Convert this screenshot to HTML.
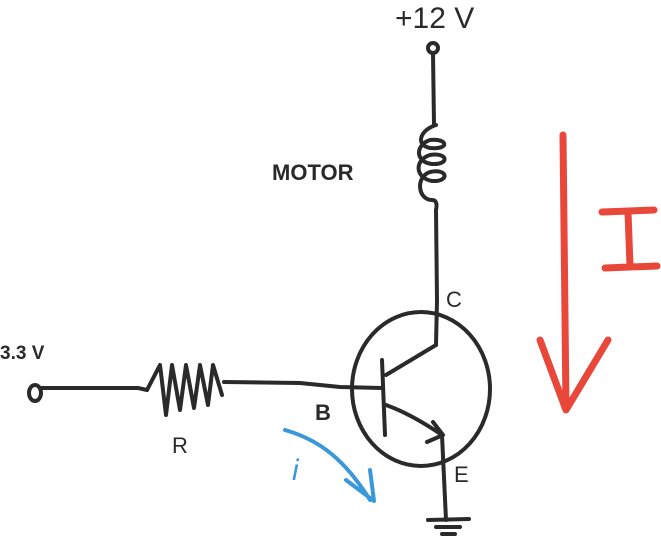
<!DOCTYPE html>
<html><head><meta charset="utf-8"><style>
html,body{margin:0;padding:0;background:#fff;width:661px;height:539px;overflow:hidden}
svg{display:block}
text{font-family:"Liberation Sans",sans-serif;}
</style></head><body>
<svg width="661" height="539" viewBox="0 0 661 539">
<g fill="none" stroke="#2a2a2a" stroke-width="4" stroke-linecap="round" stroke-linejoin="round">
<circle cx="433" cy="48" r="5"/>
<path d="M433 53 L434 125"/>
<path d="M436 125 C420 130 415 145 430 148 C450 150 448 138 430 140 C415 145 415 162 432 164 C450 165 448 152 430 155 C414 160 415 178 432 181 C450 182 448 168 430 172 C415 177 418 200 432 200 C437 200 437 205 436 210"/>
<path d="M436 210 L437 300 L436 345"/>
<ellipse cx="421" cy="389" rx="69" ry="77"/>
<path d="M382 360 L385 435"/>
<path d="M386 375 L436 345"/>
<path d="M386 405 C400 410 420 420 442 435"/>
<path d="M433 422 L443 435 L427 442"/>
<path d="M442 435 L446 520"/>
<path d="M428 520 L469 519 M436 527 L460 527 M442 534 L455 534"/>
<ellipse cx="35" cy="393" rx="6" ry="8"/>
<path d="M41 388 L138 388 L147 390"/>
<path d="M147 390 L160 365 L166 415 L172 365 L180 410 L186 365 L194 408 L200 365 L208 405 L213 365 L222 395"/>
<path d="M224 382 L300 383 L340 387 L382 388"/>
</g>
<g fill="none" stroke="#3a97d9" stroke-width="4" stroke-linecap="round" stroke-linejoin="round">
<path d="M285 430 C320 440 345 460 370 500"/>
<path d="M346 480 L374 501 L370 470"/>
</g>
<g fill="none" stroke="#e8473a" stroke-width="7" stroke-linecap="round" stroke-linejoin="round">
<path d="M563 135 L566 408"/>
<path d="M540 340 L566 410 L608 340"/>
<path d="M602 212 L654 210 M628 212 L630 266 M605 268 L657 266"/>
</g>
<g fill="#2a2a2a" font-size="22">
<text x="395" y="28" font-size="30">+12 V</text>
<text x="272" y="180" font-size="22" font-weight="bold">MOTOR</text>
<text x="446" y="307">C</text>
<text x="315" y="420" font-weight="bold">B</text>
<text x="454" y="482">E</text>
<text x="172" y="453">R</text>
<text x="0" y="359" font-size="19" font-weight="bold">3.3 V</text>
</g>
<text x="292" y="480" font-size="30" fill="#3a97d9" font-style="italic">i</text>
</svg>
</body></html>
